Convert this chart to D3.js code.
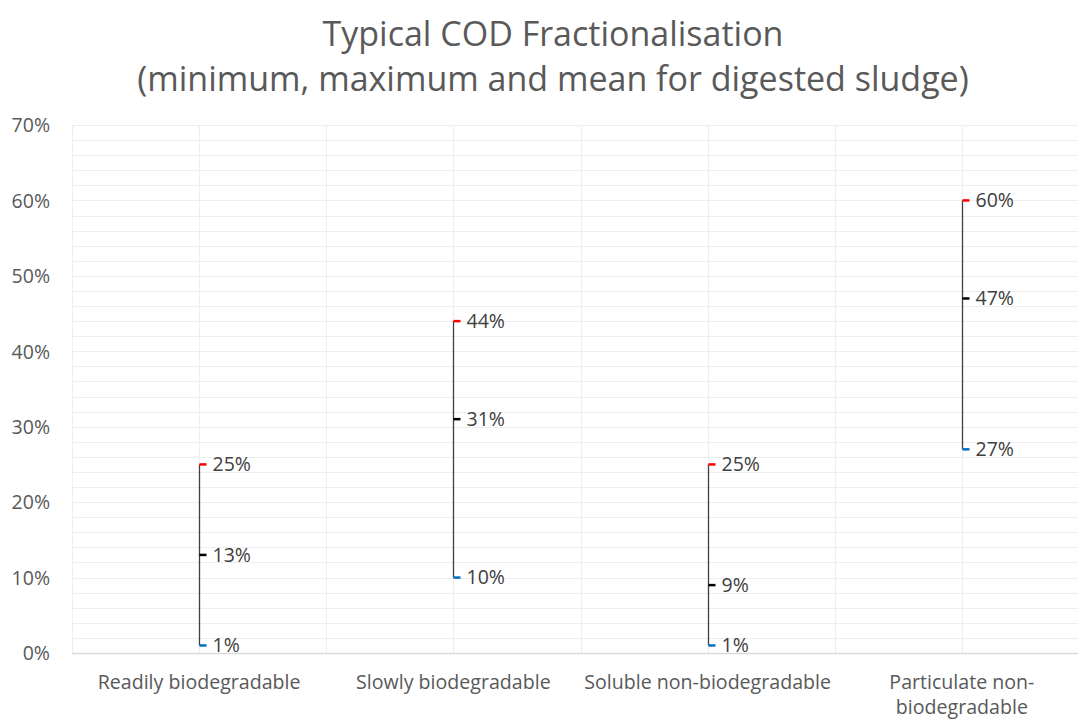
<!DOCTYPE html>
<html><head><meta charset="utf-8">
<script src="https://cdn.jsdelivr.net/npm/d3@7"></script>
<style>body{margin:0;background:#fff;overflow:hidden}svg{display:block}</style>
</head><body>
<svg id="c" width="1078" height="720"></svg>
<script>
const categories = ["Readily biodegradable","Slowly biodegradable","Soluble non-biodegradable","Particulate non-biodegradable"];
const categoryLines = [["Readily biodegradable"],["Slowly biodegradable"],["Soluble non-biodegradable"],["Particulate non-","biodegradable"]];
const maxValues = [0.25,0.44,0.25,0.60];
const meanValues = [0.13,0.31,0.09,0.47];
const minValues = [0.01,0.10,0.01,0.27];
const yTicks = [0,0.1,0.2,0.3,0.4,0.5,0.6,0.7];
const titleLines = ["Typical COD Fractionalisation","(minimum, maximum and mean for digested sludge)"];

const FONT = "'Open Sans', sans-serif";
const svg = d3.select("#c");
const pLeft = 72, pRight = 1089, pTop = 125, pBottom = 653;
const x = d3.scaleBand().domain(categories).range([pLeft, pRight]).padding(0);
const y = d3.scaleLinear().domain([0,0.7]).range([pBottom, pTop]);

const g = svg.append("g");
g.selectAll("line.h").data(d3.range(0, 0.7001, 0.02)).join("line")
  .attr("x1", pLeft).attr("x2", pRight)
  .attr("y1", d => Math.round(y(d))+0.5).attr("y2", d => Math.round(y(d))+0.5)
  .attr("stroke", "#eeeeee").attr("stroke-width", 1.2);
const vx = [];
categories.forEach(c => { vx.push(x(c)); vx.push(x(c)+x.bandwidth()/2); });
vx.push(pRight);
g.selectAll("line.v").data(vx).join("line")
  .attr("x1", d => Math.round(d)+0.5).attr("x2", d => Math.round(d)+0.5)
  .attr("y1", pTop).attr("y2", pBottom)
  .attr("stroke", "#eeeeee").attr("stroke-width", 1.2);
svg.append("line").attr("x1", pLeft).attr("x2", pRight).attr("y1", pBottom+0.5).attr("y2", pBottom+0.5)
  .attr("stroke", "#d9d9d9").attr("stroke-width", 1.5);

const yAxis = d3.axisLeft(y).tickValues(yTicks).tickFormat(d3.format(".0%")).tickSize(0).tickPadding(0);
const ya = svg.append("g").attr("transform", `translate(${pLeft-22},0)`).call(yAxis);
ya.select(".domain").remove();
ya.selectAll("text").attr("font-family", FONT).attr("font-size", 19.5).attr("fill", "#595959").attr("dy", "0.35em");

const xa = svg.append("g");
categories.forEach((c,i) => {
  categoryLines[i].forEach((ln,j) => {
    xa.append("text").attr("x", x(c)+x.bandwidth()/2).attr("y", 689 + j*25)
      .attr("text-anchor","middle").attr("font-family", FONT).attr("font-size", 19.6).attr("fill","#595959")
      .text(ln);
  });
});

const cx = c => Math.round(x(c)+x.bandwidth()/2)+0.5;
svg.selectAll("line.hl").data(categories).join("line")
  .attr("x1", cx).attr("x2", cx)
  .attr("y1", (c,i) => y(maxValues[i])).attr("y2", (c,i) => y(minValues[i]))
  .attr("stroke", "#404040").attr("stroke-width", 1.3);

const series = [
  {vals: maxValues, color: "#ff0000"},
  {vals: meanValues, color: "#000000"},
  {vals: minValues, color: "#0070c0"}
];
series.forEach(s => {
  svg.append("g").selectAll("line").data(categories).join("line")
    .attr("x1", c => cx(c)).attr("x2", c => cx(c)+7)
    .attr("y1", (c,i) => y(s.vals[i])).attr("y2", (c,i) => y(s.vals[i]))
    .attr("stroke", s.color).attr("stroke-width", 2.5);
  svg.append("g").selectAll("text").data(categories).join("text")
    .attr("x", c => cx(c)+13).attr("y", (c,i) => y(s.vals[i]))
    .attr("dy", "0.35em").attr("font-family", FONT).attr("font-size", 19.5).attr("fill", "#404040")
    .text((c,i) => d3.format(".0%")(s.vals[i]));
});

titleLines.forEach((t,i) => {
  svg.append("text").attr("x", 553).attr("y", 46 + i*45).attr("text-anchor","middle")
    .attr("font-family", FONT).attr("font-size", 34).attr("fill","#595959").text(t);
});
</script>
</body></html>
